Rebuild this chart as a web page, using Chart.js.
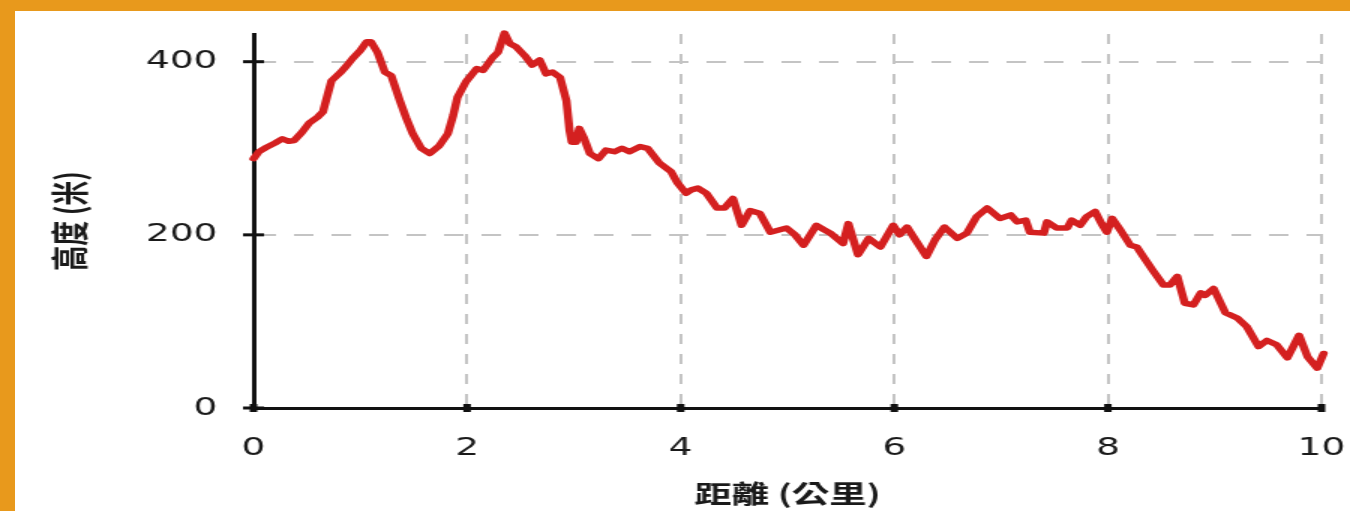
<!DOCTYPE html>
<html>
<head>
<meta charset="utf-8">
<title>高度剖面</title>
<script src="https://cdn.jsdelivr.net/npm/chart.js@4"></script>
<style>
    html, body { margin: 0; padding: 0; background: #ffffff; }
    #frame {
        position: absolute; left: 0; top: 0;
        width: 1350px; height: 511px; box-sizing: border-box;
        background: #ffffff;
        border-top: 11px solid #e8991c;
        border-left: 15px solid #e8991c;
        overflow: hidden;
    }
    /* the original picture is stretched sideways, so the chart is drawn narrow and widened */
    #wrap { width: 890px; height: 500px; transform: scaleX(1.5); transform-origin: 0 0; }
</style>
</head>
<body>
<div id="frame">
    <div id="wrap"><canvas id="elevChart" width="890" height="500"></canvas></div>
</div>
<script>
// distance along the route (km) and elevation (m)
const distanceKm = [
    0.00, 0.05, 0.12, 0.20, 0.27, 0.33, 0.38, 0.45, 0.52, 0.60, 0.65, 0.69, 0.73, 0.81, 0.87, 0.93,
    1.00, 1.06, 1.10, 1.16, 1.23, 1.29, 1.37, 1.43, 1.49, 1.57, 1.65, 1.74, 1.82, 1.87, 1.91, 1.99,
    2.09, 2.15, 2.24, 2.29, 2.35, 2.40, 2.46, 2.54, 2.61, 2.68, 2.74, 2.80, 2.87, 2.93, 2.96, 2.98,
    3.02, 3.05, 3.09, 3.15, 3.23, 3.30, 3.38, 3.45, 3.52, 3.62, 3.69, 3.80, 3.91, 3.97,
    4.05, 4.10, 4.16, 4.24, 4.34, 4.41, 4.49, 4.57, 4.65, 4.74, 4.84, 4.99,
    5.07, 5.15, 5.27, 5.34, 5.40, 5.52, 5.57, 5.66, 5.76, 5.87, 5.99,
    6.05, 6.12, 6.21, 6.30, 6.38, 6.47, 6.59, 6.68, 6.77, 6.87, 6.99,
    7.09, 7.15, 7.23, 7.27, 7.40, 7.43, 7.52, 7.62, 7.66, 7.74, 7.80, 7.88, 7.94, 7.99,
    8.04, 8.12, 8.21, 8.27, 8.33, 8.42, 8.52, 8.58, 8.65, 8.72, 8.80, 8.87, 8.91, 8.99,
    9.10, 9.21, 9.30, 9.41, 9.49, 9.58, 9.68, 9.79, 9.87, 9.96, 10.02, 10.08
];
const elevationM = [
    288, 296, 301, 306, 311, 308, 309, 318, 329, 336, 342, 360, 378, 387, 395, 404,
    413, 423, 423, 411, 388, 384, 355, 335, 317, 300, 294, 303, 317, 338, 359, 377,
    392, 390, 405, 411, 433, 421, 417, 407, 396, 402, 386, 388, 382, 355, 320, 307,
    307, 323, 313, 294, 288, 298, 296, 300, 296, 302, 300, 283, 273, 260,
    248, 252, 254, 248, 231, 231, 242, 211, 228, 225, 203, 208,
    200, 188, 211, 206, 202, 190, 213, 177, 196, 186, 211,
    200, 209, 192, 175, 194, 209, 196, 202, 221, 231, 219,
    223, 215, 217, 203, 202, 215, 208, 208, 217, 211, 221, 227, 213, 203,
    219, 205, 188, 186, 175, 159, 142, 142, 152, 121, 119, 133, 130, 138,
    110, 104, 94, 71, 78, 73, 58, 84, 59, 46, 63, 75
];

const xTicks = [0, 2, 4, 6, 8, 10];
const yTicks = [0, 200, 400];

const xTitle = '距離 (公里)';
const yTitle = '高度 (米)';

const tickFont = { family: 'DejaVu Sans', size: 25 };
const titleFont = { family: 'Noto Sans CJK TC', size: 25, weight: 'bold' };

// small black marks across the axis lines at every tick
const tickMarks = {
    id: 'tickMarks',
    afterDraw(chart) {
        const ctx = chart.ctx;
        const xs = chart.scales.x;
        const ys = chart.scales.y;
        ctx.save();
        ctx.fillStyle = '#111111';
        xs.ticks.forEach(t => {
            const px = xs.getPixelForValue(t.value);
            ctx.fillRect(px - 2.5, xs.top - 4, 5, 8);
        });
        ys.ticks.forEach(t => {
            const py = ys.getPixelForValue(t.value);
            ctx.fillRect(ys.right - 7, py - 1.5, 14, 3);
        });
        ctx.restore();
    }
};

const points = distanceKm.map((d, i) => ({ x: d, y: elevationM[i] }));

const ctx = document.getElementById('elevChart').getContext('2d');
new Chart(ctx, {
    type: 'line',
    data: {
        datasets: [{
            data: points,
            borderColor: '#d42020',
            borderWidth: 5.5,
            borderJoinStyle: 'round',
            borderCapStyle: 'round',
            pointRadius: 0,
            tension: 0,
            clip: false
        }]
    },
    options: {
        responsive: false,
        devicePixelRatio: 1,
        animation: false,
        layout: { padding: { left: 0, right: 19, top: 23, bottom: 0 } },
        plugins: {
            legend: { display: false },
            tooltip: { enabled: false }
        },
        scales: {
            x: {
                type: 'linear',
                min: 0,
                max: 10,
                afterBuildTicks: s => { s.ticks = xTicks.map(v => ({ value: v })); },
                afterFit: s => { s.height = 103; s.paddingLeft = 0; s.paddingRight = 0; },
                ticks: { font: tickFont, color: '#1a1a1a', padding: 25, maxRotation: 0 },
                grid: { color: '#c4c4c4', lineWidth: 2, drawTicks: false },
                border: { display: true, color: '#111111', width: 3, dash: [10, 10] },
                title: { display: true, text: xTitle, font: titleFont, color: '#1a1a1a', padding: { top: 0, bottom: 3 } }
            },
            y: {
                min: 0,
                max: 432,
                afterBuildTicks: s => { s.ticks = yTicks.map(v => ({ value: v })); },
                afterFit: s => { s.width = 159; s.paddingTop = 0; s.paddingBottom = 0; },
                ticks: { font: tickFont, color: '#1a1a1a', padding: 24 },
                grid: { color: '#c4c4c4', lineWidth: 2, drawTicks: false },
                border: { display: true, color: '#111111', width: 3, dash: [13, 12] },
                title: { display: true, text: yTitle, font: titleFont, color: '#1a1a1a', padding: { top: 21, bottom: 0 } }
            }
        }
    },
    plugins: [tickMarks]
});
</script>
</body>
</html>
